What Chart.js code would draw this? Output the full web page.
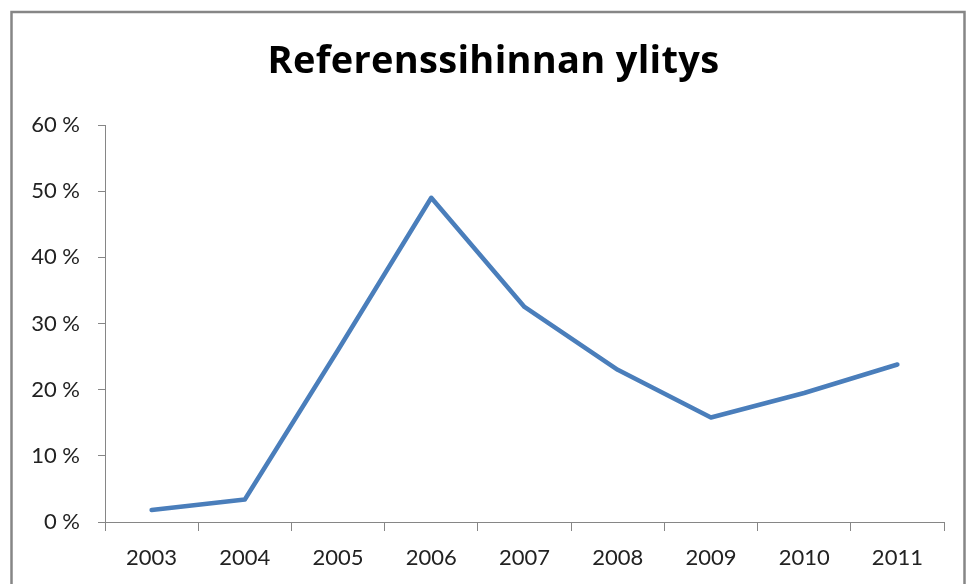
<!DOCTYPE html>
<html>
<head>
<meta charset="utf-8">
<script src="https://cdn.jsdelivr.net/npm/chart.js@4"></script>
<style>
  html, body { margin: 0; padding: 0; background: #fff; }
  #wrap { width: 976px; height: 584px; position: relative; }
  #title {
    position: absolute; left: 0; top: 33px; width: 987px;
    text-align: center; font-family: 'Open Sans', sans-serif;
    font-weight: 700; font-size: 38px; line-height: 50px; color: #000;
    letter-spacing: 0.3px;
  }
</style>
</head>
<body>
<div id="wrap">
  <canvas id="chart-ylitys"></canvas>
  <div id="title"></div>
</div>
<script>
var years = ['2003', '2004', '2005', '2006', '2007', '2008', '2009', '2010', '2011'];
var ylitys = [1.8, 3.4, 26.0, 49.0, 32.5, 23.0, 15.8, 19.5, 23.8];
var chartTitle = 'Referenssihinnan ylitys';

var axisGray = '#868686';

// frame round the whole chart, bottom edge runs off the page
var framePlugin = {
  id: 'frame',
  beforeDraw: function(chart) {
    var ctx = chart.ctx;
    ctx.save();
    ctx.strokeStyle = axisGray;
    ctx.lineWidth = 2.5;
    ctx.strokeRect(11.5, 12, 953, 620);
    ctx.restore();
  }
};

function initChart() {
  document.getElementById('title').textContent = chartTitle;
  var ctx = document.getElementById('chart-ylitys').getContext('2d');
  new Chart(ctx, {
    type: 'line',
    data: {
      labels: years,
      datasets: [{
        label: chartTitle,
        data: ylitys,
        borderColor: '#4a7ebb',
        backgroundColor: '#4a7ebb',
        borderWidth: 4.5,
        pointRadius: 0,
        tension: 0,
        borderJoinStyle: 'round',
        borderCapStyle: 'round'
      }]
    },
    options: {
      responsive: true,
      maintainAspectRatio: false,
      animation: false,
      layout: { padding: { left: 0, right: 32, top: 125, bottom: 0 } },
      plugins: {
        legend: { display: false },
        tooltip: { enabled: false },
        title: { display: false }
      },
      scales: {
        x: {
          offset: true,
          grid: {
            offset: true,
            drawOnChartArea: false,
            drawTicks: true,
            tickLength: 9,
            color: axisGray
          },
          border: { color: axisGray, width: 1 },
          ticks: {
            color: '#222',
            font: { family: 'Lato', size: 22 },
            padding: 14,
            maxRotation: 0
          },
          afterFit: function(scale) { scale.height = 62; }
        },
        y: {
          min: 0,
          max: 60,
          grid: {
            drawOnChartArea: false,
            drawTicks: true,
            tickLength: 7,
            color: axisGray
          },
          border: { color: axisGray, width: 1 },
          ticks: {
            stepSize: 10,
            color: '#222',
            font: { family: 'Lato', size: 22 },
            padding: 18,
            callback: function(v) { return v + ' %'; }
          },
          afterFit: function(scale) { scale.width = 105; }
        }
      }
    },
    plugins: [framePlugin]
  });
}

window.addEventListener('load', initChart);
</script>
</body>
</html>
